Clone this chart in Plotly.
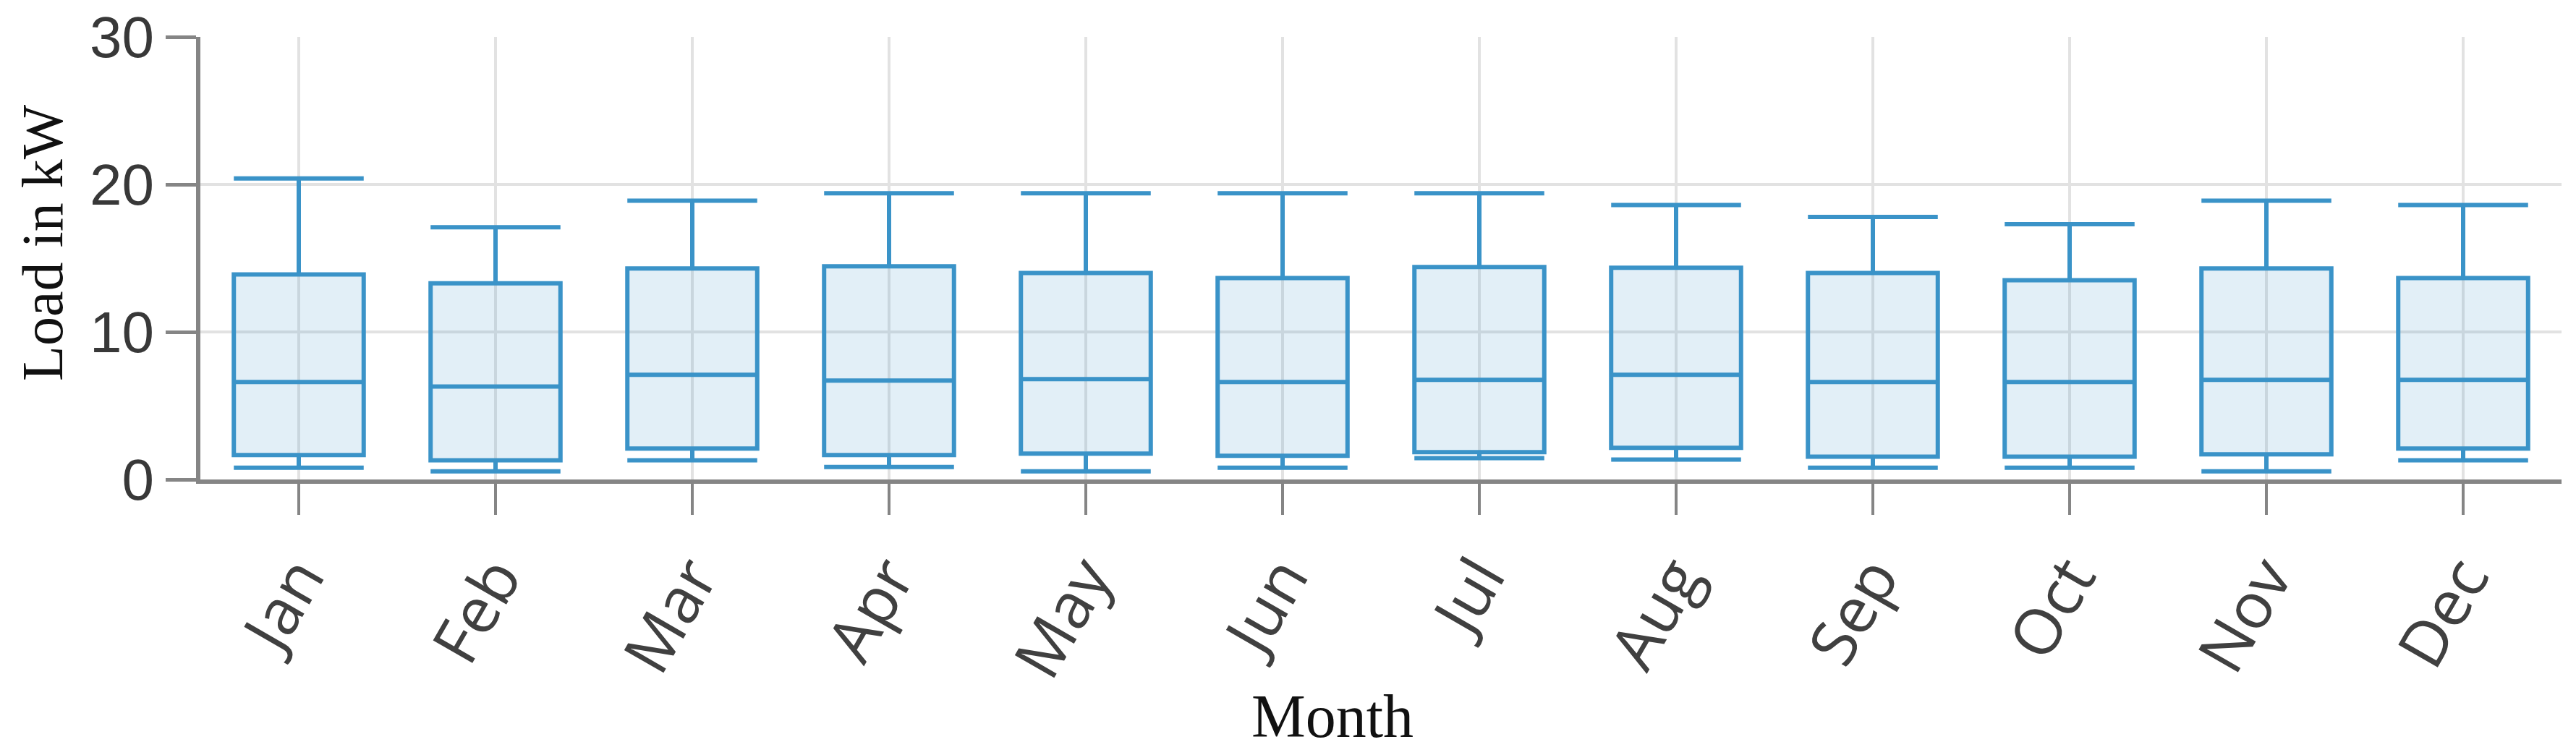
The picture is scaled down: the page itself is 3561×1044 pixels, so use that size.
import plotly.graph_objects as go

months = ["Jan", "Feb", "Mar", "Apr", "May", "Jun", "Jul", "Aug", "Sep", "Oct", "Nov", "Dec"]
upper_whisker = [20.4, 17.1, 18.9, 19.4, 19.4, 19.4, 19.4, 18.6, 17.8, 17.3, 18.9, 18.6]
q3_values = [13.9, 13.3, 14.3, 14.45, 14.0, 13.65, 14.4, 14.35, 14.0, 13.5, 14.3, 13.65]
median_values = [6.6, 6.3, 7.1, 6.7, 6.8, 6.6, 6.75, 7.1, 6.6, 6.6, 6.75, 6.75]
q1_values = [1.65, 1.3, 2.1, 1.65, 1.75, 1.6, 1.85, 2.15, 1.55, 1.55, 1.7, 2.1]
lower_whisker = [0.8, 0.55, 1.3, 0.85, 0.55, 0.8, 1.45, 1.35, 0.8, 0.8, 0.55, 1.3]
y_ticks = [0, 10, 20, 30]

line_col = "#3a93c8"
axis_col = "#858585"
grid_col = "#e2e2e2"
x_tick_font = dict(family="Open Sans", size=88, color="#404040")
y_tick_font = dict(family="Liberation Sans", size=80, color="#383838")
title_font = dict(family="Liberation Serif", size=84, color="#111111")

fig = go.Figure()
fig.add_trace(go.Box(
    x=months,
    q1=q1_values,
    median=median_values,
    q3=q3_values,
    lowerfence=lower_whisker,
    upperfence=upper_whisker,
    boxpoints=False,
    width=0.66,
    whiskerwidth=1,
    line=dict(color=line_col, width=6),
    fillcolor="rgba(58,147,200,0.15)",
    showlegend=False,
))

W, H = 3545, 1028
fig.update_layout(
    width=W, height=H,
    margin=dict(l=269, r=12, t=43, b=373, pad=0),
    paper_bgcolor="white",
    plot_bgcolor="white",
    showlegend=False,
)
fig.update_xaxes(
    type="category",
    range=[-0.5, 11.5],
    automargin=False,
    showline=True, linecolor=axis_col, linewidth=6,
    showgrid=True, gridcolor=grid_col, gridwidth=4,
    ticks="outside", ticklen=43, tickwidth=4, tickcolor=axis_col,
    tickangle=-60,
    tickfont=x_tick_font,
)
fig.update_yaxes(
    range=[0, 30],
    tickvals=y_ticks,
    automargin=False,
    showline=True, linecolor=axis_col, linewidth=6,
    showgrid=True, gridcolor=grid_col, gridwidth=4,
    zeroline=False,
    ticks="outside", ticklen=42, tickwidth=5, tickcolor=axis_col,
    tickfont=y_tick_font,
    ticklabeloverflow="allow",
)
fig.add_annotation(
    text="Load in kW", textangle=-90,
    xref="paper", yref="paper", x=-0.067, y=0.535,
    xanchor="center", yanchor="middle", showarrow=False,
    font=dict(family="Liberation Serif", size=80, color="#111111"),
)
fig.add_annotation(
    text="Month",
    xref="paper", yref="paper", x=0.4795, y=-0.535,
    xanchor="center", yanchor="middle", showarrow=False,
    font=title_font,
)
fig.write_html("out.html")
